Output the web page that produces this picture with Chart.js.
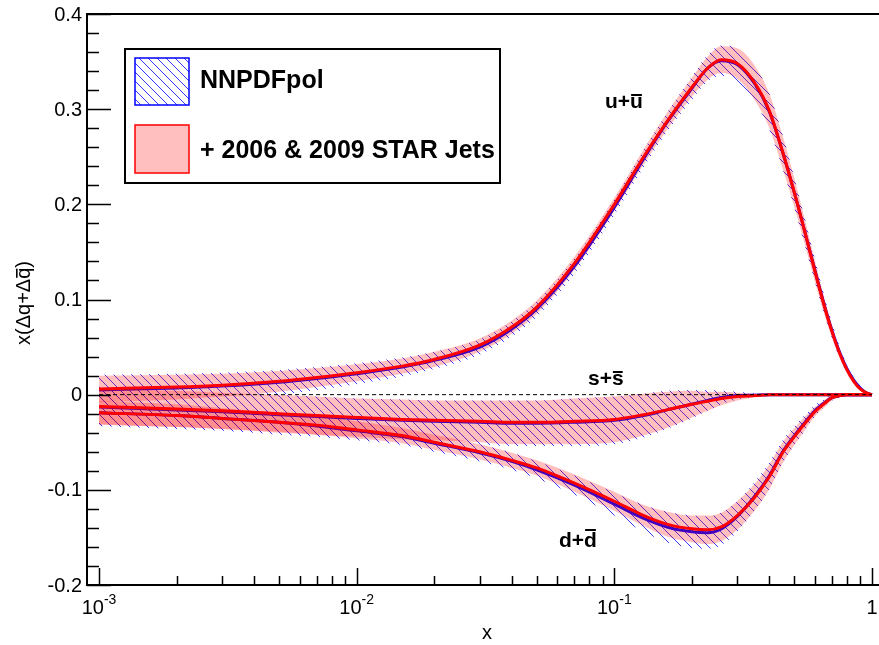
<!DOCTYPE html>
<html>
<head>
<meta charset="utf-8">
<script src="https://cdn.jsdelivr.net/npm/chart.js@4/dist/chart.umd.min.js"></script>
<style>
  html, body { margin: 0; padding: 0; background: #fff; }
</style>
</head>
<body>
<canvas id="c" width="879" height="645"></canvas>
<script>
// x grid (log scale) and values
const xs = [0.001, 0.002, 0.003, 0.005, 0.007, 0.01, 0.015, 0.02, 0.03, 0.04, 0.05, 0.07, 0.1, 0.13, 0.16, 0.2, 0.23, 0.26, 0.3, 0.35, 0.4, 0.45, 0.5, 0.55, 0.6, 0.65, 0.7, 0.75, 0.8, 0.85, 0.9, 0.95, 1.0];

// u + ubar
const uStar    = [0.006, 0.008, 0.010, 0.014, 0.018, 0.023, 0.030, 0.037, 0.052, 0.071, 0.092, 0.138, 0.200, 0.250, 0.287, 0.323, 0.343, 0.352, 0.348, 0.328, 0.298, 0.255, 0.212, 0.170, 0.130, 0.095, 0.066, 0.043, 0.026, 0.014, 0.006, 0.002, 0.000];
const uStarErr = [0.014, 0.013, 0.012, 0.011, 0.010, 0.009, 0.008, 0.008, 0.007, 0.007, 0.007, 0.007, 0.007, 0.008, 0.009, 0.010, 0.012, 0.014, 0.016, 0.018, 0.018, 0.017, 0.015, 0.013, 0.011, 0.009, 0.007, 0.005, 0.004, 0.003, 0.002, 0.001, 0.000];
const uPol     = [0.005, 0.007, 0.009, 0.013, 0.017, 0.022, 0.029, 0.036, 0.050, 0.069, 0.090, 0.135, 0.197, 0.248, 0.286, 0.322, 0.343, 0.351, 0.347, 0.327, 0.297, 0.255, 0.212, 0.170, 0.131, 0.096, 0.067, 0.044, 0.027, 0.015, 0.007, 0.002, 0.000];
const uPolErr  = [0.016, 0.015, 0.014, 0.013, 0.012, 0.011, 0.010, 0.009, 0.008, 0.008, 0.008, 0.008, 0.008, 0.009, 0.010, 0.012, 0.014, 0.016, 0.018, 0.019, 0.019, 0.018, 0.016, 0.014, 0.012, 0.010, 0.008, 0.006, 0.004, 0.003, 0.002, 0.001, 0.000];

// s + sbar
const sStar    = [-0.0125, -0.015, -0.017, -0.020, -0.022, -0.024, -0.026, -0.027, -0.028, -0.029, -0.029, -0.028, -0.026, -0.021, -0.016, -0.010, -0.007, -0.004, -0.002, -0.001, 0, 0, 0, 0, 0, 0, 0, 0, 0, 0, 0, 0, 0];
const sStarErr = [0.019, 0.019, 0.019, 0.020, 0.020, 0.020, 0.021, 0.021, 0.022, 0.023, 0.023, 0.024, 0.024, 0.022, 0.019, 0.014, 0.010, 0.007, 0.004, 0.002, 0.001, 0.0005, 0, 0, 0, 0, 0, 0, 0, 0, 0, 0, 0];
const sPol     = [-0.013, -0.016, -0.018, -0.021, -0.023, -0.025, -0.027, -0.028, -0.029, -0.030, -0.030, -0.029, -0.027, -0.022, -0.016, -0.010, -0.006, -0.003, -0.001, -0.0005, 0, 0, 0, 0, 0, 0, 0, 0, 0, 0, 0, 0, 0];
const sPolErr  = [0.020, 0.020, 0.020, 0.021, 0.021, 0.021, 0.022, 0.022, 0.023, 0.024, 0.024, 0.025, 0.025, 0.023, 0.020, 0.015, 0.011, 0.007, 0.004, 0.002, 0.001, 0.0005, 0, 0, 0, 0, 0, 0, 0, 0, 0, 0, 0];

// d + dbar
const dStar    = [-0.019, -0.022, -0.025, -0.029, -0.032, -0.037, -0.043, -0.050, -0.060, -0.069, -0.077, -0.093, -0.112, -0.127, -0.136, -0.141, -0.142, -0.139, -0.127, -0.108, -0.086, -0.061, -0.044, -0.030, -0.018, -0.010, -0.003, -0.001, 0, 0, 0, 0, 0];
const dStarErr = [0.012, 0.012, 0.011, 0.010, 0.010, 0.009, 0.008, 0.008, 0.008, 0.008, 0.008, 0.009, 0.010, 0.011, 0.013, 0.014, 0.015, 0.015, 0.015, 0.014, 0.013, 0.011, 0.009, 0.007, 0.005, 0.004, 0.003, 0.002, 0.001, 0, 0, 0, 0];
const dPol     = [-0.019, -0.022, -0.025, -0.029, -0.033, -0.038, -0.044, -0.051, -0.061, -0.070, -0.079, -0.095, -0.115, -0.130, -0.139, -0.144, -0.145, -0.141, -0.128, -0.107, -0.085, -0.060, -0.043, -0.029, -0.017, -0.009, -0.003, -0.001, 0, 0, 0, 0, 0];
const dPolErr  = [0.014, 0.013, 0.012, 0.011, 0.011, 0.010, 0.009, 0.009, 0.009, 0.009, 0.009, 0.010, 0.012, 0.014, 0.016, 0.017, 0.017, 0.017, 0.016, 0.015, 0.014, 0.012, 0.010, 0.008, 0.006, 0.004, 0.003, 0.002, 0.001, 0, 0, 0, 0];

const zeroX = [0.001, 1];
const zeroY = [0, 0];

const yTicks = [-0.2, -0.1, 0, 0.1, 0.2, 0.3, 0.4];
const yTickLabels = ['-0.2', '-0.1', '0', '0.1', '0.2', '0.3', '0.4'];
const xTicks = [0.001, 0.01, 0.1, 1];
const xTickLabels = [['10', '-3'], ['10', '-2'], ['10', '-1'], ['1', '']];
const legendLabels = ['NNPDFpol', '+ 2006 & 2009 STAR Jets'];

const PINK = 'rgba(255,0,0,0.25)';
const FONT = '"Liberation Sans", Arial, Helvetica, sans-serif';

function hatch(color) {
  const c = document.createElement('canvas');
  c.width = 9; c.height = 9;
  const g = c.getContext('2d');
  g.strokeStyle = color;
  g.lineWidth = 1;
  g.beginPath();
  g.moveTo(0, 0); g.lineTo(9, 9);
  g.moveTo(-1, 8); g.lineTo(1, 10);
  g.moveTo(8, -1); g.lineTo(10, 1);
  g.stroke();
  return g.createPattern(c, 'repeat');
}
const HATCH = hatch('rgba(20,20,255,0.85)');

const pts = (ys) => xs.map((x, i) => ({ x, y: ys[i] }));
const off = (ys, err, s) => xs.map((x, i) => ({ x, y: ys[i] + s * err[i] }));

function band(c, e, bg, order) {
  const common = { pointRadius: 0, borderWidth: 0, borderColor: 'rgba(0,0,0,0)', cubicInterpolationMode: 'monotone', order };
  return [
    { ...common, data: off(c, e, 1), fill: '+1', backgroundColor: bg },
    { ...common, data: off(c, e, -1), fill: false }
  ];
}
function line(c, color, order) {
  return { data: pts(c), borderColor: color, borderWidth: 3, pointRadius: 0, fill: false, cubicInterpolationMode: 'monotone', order };
}

const datasets = [
  ...band(uPol, uPolErr, HATCH, 10),
  ...band(sPol, sPolErr, HATCH, 10),
  ...band(dPol, dPolErr, HATCH, 10),
  line(uPol, '#0000ff', 9),
  line(sPol, '#0000ff', 9),
  line(dPol, '#0000ff', 9),
  ...band(uStar, uStarErr, PINK, 8),
  ...band(sStar, sStarErr, PINK, 8),
  ...band(dStar, dStarErr, PINK, 8),
  line(uStar, '#ff0000', 4),
  line(sStar, '#ff0000', 4),
  line(dStar, '#ff0000', 4),
  { data: zeroX.map((x, i) => ({ x, y: zeroY[i] })), borderColor: '#000', borderWidth: 1, borderDash: [4, 3], pointRadius: 0, fill: false, order: 1 }
];

// text with a bar over the last character
function barText(ctx, text, x, y, barUp) {
  const head = text.slice(0, -1), last = text.slice(-1);
  ctx.fillText(text, x, y);
  const x0 = x + ctx.measureText(head).width;
  const w = ctx.measureText(last).width;
  ctx.fillRect(x0 + w * 0.08, y - barUp, w * 0.84, 2);
}

const decor = {
  id: 'decor',
  afterDraw(chart) {
    const ctx = chart.ctx, a = chart.chartArea;
    const sx = chart.scales.x, sy = chart.scales.y;
    ctx.save();
    ctx.fillStyle = '#000';
    ctx.strokeStyle = '#000';

    // frame
    ctx.lineWidth = 2;
    ctx.beginPath();
    ctx.moveTo(a.right + 5, a.top);
    ctx.lineTo(a.left, a.top);
    ctx.lineTo(a.left, a.bottom);
    ctx.lineTo(a.right + 5, a.bottom);
    ctx.stroke();

    // y ticks (inside)
    ctx.lineWidth = 1.5;
    ctx.beginPath();
    for (let i = 0; i <= 30; i++) {
      const y = Math.round(sy.getPixelForValue(-0.2 + i * 0.02)) + 0.5;
      const len = i % 5 === 0 ? 24 : 12;
      ctx.moveTo(a.left, y); ctx.lineTo(a.left + len, y);
    }
    // x ticks (inside)
    for (let k = -3; k <= 0; k++) {
      for (let m = 1; m <= 9; m++) {
        const v = m * Math.pow(10, k);
        if (v > 1.0001) break;
        const x = Math.round(sx.getPixelForValue(v)) + 0.5;
        const len = m === 1 ? 17 : 9;
        ctx.moveTo(x, a.bottom); ctx.lineTo(x, a.bottom - len);
      }
    }
    ctx.stroke();

    // y tick labels
    ctx.font = '20px ' + FONT;
    ctx.textAlign = 'right';
    ctx.textBaseline = 'middle';
    yTicks.forEach((v, i) => ctx.fillText(yTickLabels[i], 82, sy.getPixelForValue(v) + 1));

    // x tick labels with exponents
    ctx.textAlign = 'left';
    ctx.textBaseline = 'alphabetic';
    xTicks.forEach((v, i) => {
      const [b, e] = xTickLabels[i];
      ctx.font = '20px ' + FONT;
      const wb = ctx.measureText(b).width;
      ctx.font = '14px ' + FONT;
      const we = e ? ctx.measureText(e).width : 0;
      const x0 = sx.getPixelForValue(v) - (wb + we) / 2;
      ctx.font = '20px ' + FONT;
      ctx.fillText(b, x0, 614);
      if (e) { ctx.font = '14px ' + FONT; ctx.fillText(e, x0 + wb, 604); }
    });

    // axis titles
    ctx.font = '20px ' + FONT;
    ctx.textAlign = 'center';
    ctx.fillText('x', 487, 639);
    ctx.save();
    ctx.translate(30, 303);
    ctx.rotate(-Math.PI / 2);
    ctx.textAlign = 'left';
    const yt = 'x(Δq+Δq)';
    const wt = ctx.measureText(yt).width;
    const pre = ctx.measureText('x(Δq+Δ').width;
    const wq = ctx.measureText('q').width;
    ctx.fillText(yt, -wt / 2, 0);
    ctx.fillRect(-wt / 2 + pre + 1, -14, wq - 2, 1.6);
    ctx.restore();

    // curve labels
    ctx.font = 'bold 21px ' + FONT;
    ctx.textAlign = 'left';
    barText(ctx, 'u+u', 605, 108, 14);
    barText(ctx, 's+s', 588, 385, 14);
    barText(ctx, 'd+d', 559, 547, 18);

    // legend
    ctx.fillStyle = '#fff';
    ctx.fillRect(125, 49, 375, 134);
    ctx.lineWidth = 2;
    ctx.strokeStyle = '#000';
    ctx.strokeRect(125, 49, 375, 134);
    ctx.fillStyle = HATCH;
    ctx.fillRect(135, 58, 54, 47);
    ctx.lineWidth = 1.5;
    ctx.strokeStyle = '#0000ff';
    ctx.strokeRect(135, 58, 54, 47);
    ctx.fillStyle = PINK;
    ctx.fillRect(135, 125, 54, 48);
    ctx.strokeStyle = '#ff0000';
    ctx.strokeRect(135, 125, 54, 48);
    ctx.fillStyle = '#000';
    ctx.font = 'bold 25px ' + FONT;
    ctx.fillText(legendLabels[0], 200, 88);
    ctx.fillText(legendLabels[1], 200, 158);

    ctx.restore();
  }
};

new Chart(document.getElementById('c').getContext('2d'), {
  type: 'line',
  data: { datasets },
  options: {
    responsive: false,
    animation: false,
    devicePixelRatio: 1,
    layout: { padding: { left: 87, top: 14, right: 0, bottom: 60 } },
    plugins: {
      legend: { display: false },
      tooltip: { enabled: false },
      filler: { propagate: false }
    },
    scales: {
      x: { type: 'logarithmic', min: 8.98e-4, max: 1.0646, display: false },
      y: { type: 'linear', min: -0.2, max: 0.4, display: false }
    }
  },
  plugins: [decor]
});
</script>
</body>
</html>
